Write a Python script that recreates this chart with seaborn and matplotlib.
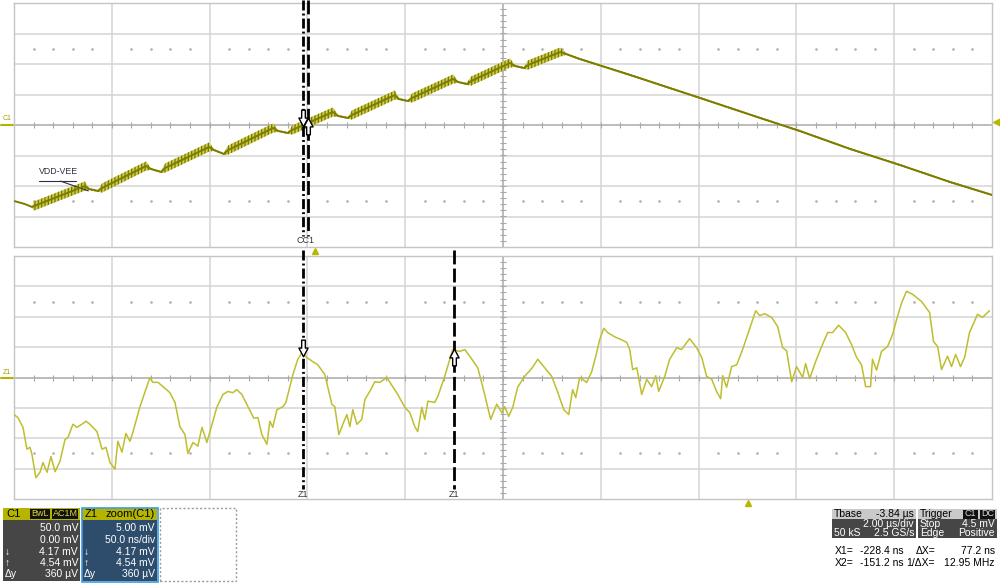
import numpy as np
import pandas as pd
import seaborn as sns
import matplotlib.pyplot as plt
from matplotlib.patches import Rectangle
from matplotlib.lines import Line2D
from matplotlib.path import Path

# ---- values ----
# C1 main trace: time (us), level (mV), ripple peak-to-peak (mV)
c1_time = [0.00, 0.22, 0.37, 0.41, 1.45, 1.53, 1.72, 1.80, 2.70, 2.80,
           3.01, 3.09, 3.99, 4.09, 4.29, 4.38, 5.30, 5.40, 5.60, 5.69,
           6.52, 6.63, 6.83, 6.91, 7.79, 7.87, 8.06, 8.14, 8.98, 9.08,
           9.26, 9.35, 10.14, 10.25, 10.43, 10.51, 11.17, 11.29, 11.57, 12.60,
           14.03, 15.26, 16.07, 17.10, 18.12, 19.14, 20.00]
c1_mv = [-124.6, -129.5, -134.4, -132.8, -100.0, -104.9, -108.2, -103.3, -67.2, -72.1,
         -77.0, -70.5, -36.1, -41.0, -47.5, -41.0, -4.9, -9.8, -13.1, -8.2,
         21.3, 14.8, 11.5, 16.4, 49.2, 42.6, 39.3, 44.3, 75.4, 70.5,
         67.2, 72.1, 101.6, 96.7, 93.4, 98.3, 119.6, 116.4, 108.2, 82.0,
         44.3, 11.5, -9.8, -39.3, -65.6, -93.4, -114.7]
c1_ripple = [0, 0, 2, 15, 15, 3, 3, 15, 15, 3,
             3, 15, 15, 3, 3, 15, 15, 3, 3, 15,
             15, 3, 3, 15, 15, 3, 3, 15, 15, 3,
             3, 15, 15, 3, 3, 15, 15, 3, 3, 3,
             3, 3, 3, 3, 3, 3, 3]

# Z1 zoom trace: time (ns from left edge), level (mV)
z1_time = [0.0, 2.0, 4.6, 6.6, 8.2, 9.2, 11.2, 13.3, 14.8, 16.9,
           18.9, 21.0, 23.5, 26.1, 27.6, 30.1, 32.2, 34.7, 36.8, 38.8,
           42.4, 45.0, 47.0, 49.1, 51.6, 53.1, 55.2, 57.2, 59.3, 60.8,
           64.4, 69.5, 71.0, 73.6, 76.2, 79.7, 82.3, 84.8, 87.4, 88.9,
           91.5, 94.0, 96.1, 98.6, 100.2, 103.7, 106.8, 109.3, 111.9, 113.9,
           116.5, 119.6, 122.6, 124.7, 126.7, 129.3, 130.8, 132.3, 134.4, 137.5,
           139.0, 142.6, 145.1, 147.2, 149.7, 152.8, 155.3, 158.9, 162.5, 164.0,
           166.1, 168.1, 170.2, 171.7, 173.2, 175.3, 177.8, 179.4, 181.9, 184.5,
           187.0, 190.6, 193.2, 196.2, 199.8, 202.4, 204.9, 206.4, 208.5, 210.0,
           211.6, 215.1, 216.7, 220.2, 222.8, 224.3, 227.9, 230.5, 233.0, 237.1,
           239.7, 242.2, 243.7, 246.8, 249.4, 250.9, 252.9, 255.0, 257.5, 261.1,
           264.7, 267.8, 270.3, 274.9, 277.5, 281.1, 283.6, 285.6, 287.2, 289.2,
           292.8, 295.4, 297.9, 299.4, 301.5, 303.5, 307.1, 310.7, 313.2, 314.8,
           316.3, 318.4, 320.9, 323.5, 326.0, 328.1, 329.6, 332.7, 335.2, 338.8,
           341.3, 345.4, 349.0, 351.6, 354.1, 356.7, 359.2, 361.3, 362.3, 364.3,
           366.9, 369.5, 372.5, 375.1, 379.2, 381.2, 383.8, 387.3, 390.4, 393.0,
           395.0, 397.6, 400.1, 403.2, 404.7, 406.8, 409.8, 412.9, 416.0, 418.5,
           421.6, 425.2, 428.2, 430.8, 433.3, 435.4, 437.9, 438.9, 441.0, 443.5,
           446.6, 449.2, 451.2, 453.8, 456.3, 459.4, 464.0, 468.1, 470.1, 472.2,
           474.2, 477.3, 479.3, 481.4, 483.9, 486.0, 488.5, 492.6, 495.2, 498.7]
z1_mv = [-6.1, -6.6, -8.2, -11.8, -11.5, -12.7, -16.5, -15.6, -14.0, -15.6,
         -13.0, -15.5, -13.8, -10.2, -9.9, -7.7, -8.2, -7.7, -7.2, -7.7,
         -8.9, -11.8, -11.5, -14.0, -15.1, -10.5, -12.3, -9.2, -10.5, -9.0,
         -4.8, 0.0, -0.8, -0.8, -1.5, -2.5, -4.1, -8.1, -9.4, -12.5,
         -10.7, -11.3, -8.2, -10.7, -8.9, -4.9, -2.8, -2.3, -2.5, -2.0,
         -2.8, -4.8, -6.7, -6.6, -9.4, -11.0, -7.2, -8.2, -5.3, -4.8,
         -4.1, 0.5, 3.0, 4.1, 3.3, 2.6, 2.1, 0.5, -4.4, -4.8,
         -9.4, -7.7, -6.1, -8.1, -5.3, -7.7, -6.9, -3.6, -2.3, -0.7,
         -0.8, 0.0, -1.3, -2.8, -4.9, -5.8, -8.1, -8.9, -4.9, -6.9,
         -3.9, -4.1, -3.1, 0.2, 3.0, 4.6, 4.3, 4.6, 3.5, 1.6,
         -1.6, -4.9, -6.9, -4.4, -5.8, -4.8, -6.4, -4.9, -1.6, 0.2,
         1.5, 3.0, 2.0, 0.2, -2.0, -5.3, -6.1, -2.0, -3.3, 0.0,
         -0.8, 1.0, 4.1, 6.2, 8.1, 7.4, 6.7, 6.2, 5.8, 4.6,
         1.3, 1.6, -2.8, -0.3, -1.5, 0.3, -2.3, 0.2, 3.0, 4.9,
         4.6, 6.4, 4.9, 3.3, 0.2, -0.3, -2.3, -3.5, 0.3, -1.6,
         1.8, 2.1, 4.6, 7.1, 11.0, 10.2, 10.5, 9.9, 8.4, 4.9,
         4.4, -0.7, 1.8, 0.0, 2.3, -0.2, 2.6, 5.1, 7.4, 7.4,
         8.6, 7.4, 5.4, 3.3, 2.1, -1.5, -1.5, 3.0, 1.2, 4.3,
         5.1, 7.1, 9.5, 12.3, 14.2, 13.7, 12.5, 10.7, 5.9, 5.1,
         1.3, 3.5, 1.8, 3.8, 1.8, 3.3, 7.4, 10.4, 9.9, 11.0]

cursor_main = [5.91, 6.01]      # us
cursor_zoom = [148.0, 225.2]    # ns
trigger_level = 4.5             # mV

c1_head = ['C1', 'BwL', 'AC1M']
c1_rows = ['50.0 mV', '0.00 mV', '4.17 mV', '4.54 mV', '360 µV']
z1_head = ['Z1', 'zoom(C1)']
z1_rows = ['5.00 mV', '50.0 ns/div', '4.17 mV', '4.54 mV', '360 µV']
row_keys = ['', '', '↓', '↑', 'Δy']
tbase_rows = [('Tbase', '-3.84 µs'), ('', '2.00 µs/div'), ('50 kS', '2.5 GS/s')]
trig_rows = [('Trigger', ''), ('Stop', '4.5 mV'), ('Edge', 'Positive')]
readouts = [('X1=', '-228.4 ns', 'ΔX=', '77.2 ns'),
            ('X2=', '-151.2 ns', '1/ΔX=', '12.95 MHz')]

# ---- style ----
sns.set_style('white')
plt.rcParams['font.family'] = ['Liberation Sans', 'DejaVu Sans']
plt.rcParams['hatch.linewidth'] = 0.9

W, H = 1000, 583
fig = plt.figure(figsize=(10, 5.83), dpi=100)
ax_top = fig.add_axes([14 / W, 1 - 247 / H, 978 / W, 244 / H])
ax_bot = fig.add_axes([14 / W, 1 - 499 / H, 978 / W, 243 / H])


def screen(ax, xdiv, ydiv):
    # scope graticule: 10 x 8 divisions
    ax.set_xlim(0, 10 * xdiv)
    ax.set_ylim(-4 * ydiv, 4 * ydiv)
    ax.set_xticks([])
    ax.set_yticks([])
    for k in range(1, 10):
        if k != 5:
            ax.axvline(k * xdiv, color='#d4d4d4', lw=1.1, zorder=0)
    for k in range(-3, 4):
        if k != 0:
            ax.axhline(k * ydiv, color='#d4d4d4', lw=1.1, zorder=0)
    ax.axhline(0, color='#a9a9a9', lw=1.1, zorder=0)
    ax.axvline(5 * xdiv, color='#a9a9a9', lw=1.1, zorder=0)
    xs = np.arange(0.2, 10, 0.2) * xdiv
    ys = np.arange(-3.8, 4, 0.2) * ydiv
    ax.plot(xs, np.zeros_like(xs), ls='none', marker='|', ms=4, mew=0.8,
            color='#a9a9a9', zorder=0)
    ax.plot(np.full_like(ys, 5 * xdiv), ys, ls='none', marker='_', ms=4, mew=0.8,
            color='#a9a9a9', zorder=0)
    dots = np.array([x for x in np.arange(0.2, 10, 0.2) if abs(x - round(x)) > 0.05]) * xdiv
    for yy in (2.5, -2.5):
        ax.plot(dots, np.full_like(dots, yy * ydiv), ls='none', marker='o', ms=1.0,
                color='#b8b8b8', zorder=0)
    for s in ax.spines.values():
        s.set_color('#c4c4c4')
        s.set_linewidth(1.0)


screen(ax_top, 2.0, 50.0)
screen(ax_bot, 50.0, 5.0)

# ---- main trace ----
c1 = pd.DataFrame({'t': c1_time, 'mv': c1_mv, 'rip': c1_ripple})
ax_top.fill_between(c1['t'], c1['mv'] - c1['rip'] / 2, c1['mv'] + c1['rip'] / 2,
                    facecolor='#cccc50', edgecolor='#787800', hatch='|||||',
                    linewidth=0, zorder=2)
sns.lineplot(data=c1, x='t', y='mv', ax=ax_top, color='#7c7c00', lw=1.4,
             estimator=None, sort=False, zorder=3)
ax_top.set_xlabel('')
ax_top.set_ylabel('')

# ---- zoom trace ----
z1 = pd.DataFrame({'t': z1_time, 'mv': z1_mv})
sns.lineplot(data=z1, x='t', y='mv', ax=ax_bot, color='#bebe30', lw=1.1,
             estimator=None, sort=False, zorder=3)
ax_bot.set_xlabel('')
ax_bot.set_ylabel('')

# ---- cursors ----
dashdot = (0, (3.6, 1.1, 0.7, 1.1))
dashed = (0, (5, 1.5))
ax_top.plot([cursor_main[0]] * 2, [205, -182], color='black', lw=2, ls=dashdot,
            clip_on=False, zorder=5)
ax_top.plot([cursor_main[1]] * 2, [205, -182], color='black', lw=2, ls=dashed,
            clip_on=False, zorder=5)
ax_bot.plot([cursor_zoom[0]] * 2, [21, -18.4], color='black', lw=2, ls=dashdot,
            clip_on=False, zorder=5)
ax_bot.plot([cursor_zoom[1]] * 2, [21, -18.4], color='black', lw=2, ls=dashed,
            clip_on=False, zorder=5)
# the two C1 cursor tags sit almost on top of each other
ax_top.text(sum(cursor_main) / 2, -190, 'CC1', ha='center', va='center', fontsize=6.5,
            color='#333344')
for x in cursor_zoom:
    ax_bot.text(x, -19.2, 'Z1', ha='center', va='center', fontsize=6.5, color='#333344')

# hollow cursor arrows
down_arrow = Path([(-0.22, 1.0), (0.22, 1.0), (0.22, 0.05), (0.55, 0.05), (0.0, -1.0),
                   (-0.55, 0.05), (-0.22, 0.05), (-0.22, 1.0)], closed=True)
up_arrow = Path([(x, -y) for x, y in down_arrow.vertices], closed=True)
arrow_style = dict(ls='none', ms=12, mfc='white', mec='black', mew=1.0, zorder=6,
                   clip_on=False)
ax_top.plot([cursor_main[0]], [12], marker=down_arrow, **arrow_style)
ax_top.plot([cursor_main[1]], [-2], marker=up_arrow, **arrow_style)
ax_bot.plot([cursor_zoom[0]], [4.9], marker=down_arrow, **arrow_style)
ax_bot.plot([cursor_zoom[1]], [3.4], marker=up_arrow, **arrow_style)

# label on the main trace
ax_top.text(0.52, -84, 'VDD-VEE', fontsize=6.3, color='#303040', va='bottom')
ax_top.plot([0.51, 1.27], [-92, -92], color='#303040', lw=0.8)
ax_top.plot([0.95, 1.52], [-92, -108], color='#303040', lw=0.8)

# markers: trigger level, trigger position
ax_top.plot([20.1], [trigger_level], marker='<', ms=6, color='#b8b800', clip_on=False)
ax_top.plot([6.16], [-207], marker='^', ms=5, color='#b8b800', clip_on=False)
ax_bot.plot([375], [-20.7], marker='^', ms=5, color='#b8b800', clip_on=False)


def fx(px):
    return px / W


def fy(py):
    return 1 - py / H


def rect(x0, y0, x1, y1, fc, **kw):
    fig.patches.append(Rectangle((fx(x0), fy(y1)), (x1 - x0) / W, (y1 - y0) / H,
                                 transform=fig.transFigure, facecolor=fc, **kw))


def txt(px, py, s, ha='left', color='white', size=7.5):
    fig.text(fx(px), fy(py), s, ha=ha, va='center', color=color, fontsize=size)


# channel labels at left edge
txt(3, 119, 'C1', color='#a0a000', size=5)
txt(3, 372, 'Z1', color='#a0a000', size=5)
fig.add_artist(Line2D([fx(1), fx(13)], [fy(125)] * 2, color='#b4b400', lw=1.5))
fig.add_artist(Line2D([fx(1), fx(13)], [fy(378)] * 2, color='#b4b400', lw=1.5))

# ---- C1 info box ----
row_y = [528, 540, 552, 563, 574]
rect(3, 508, 80, 520, '#b5b500', lw=0)
rect(3, 520, 80, 581, '#464646', lw=0)
txt(6, 514, c1_head[0], color='black', size=8)
rect(30, 509, 50, 519, '#111111', lw=0)
txt(40, 514, c1_head[1], ha='center', color='#d8d840', size=6.5)
rect(52, 509, 78, 519, '#111111', lw=0)
txt(65, 514, c1_head[2], ha='center', color='#d8d840', size=6.5)
for y, key, val in zip(row_y, row_keys, c1_rows):
    txt(5, y, key)
    txt(78, y, val, ha='right')

# ---- Z1 info box ----
rect(82, 520, 157, 581, '#2e4d6c', lw=0)
rect(82, 508, 157, 520, '#b5b500', lw=0)
rect(81.5, 507.5, 157.5, 581.5, 'none', edgecolor='#3d9be0', lw=1.2)
txt(85, 514, z1_head[0], color='black', size=8)
txt(155, 514, z1_head[1], ha='right', color='black', size=8)
for y, key, val in zip(row_y, row_keys, z1_rows):
    txt(84, y, key)
    txt(155, y, val, ha='right')

rect(160, 508, 236, 581, 'none', edgecolor='#9a9a9a', lw=1, ls=(0, (1.5, 1.5)))

# ---- timebase / trigger boxes ----
rect(832, 509, 916, 519, '#c9c9c9', lw=0)
rect(832, 519, 916, 538, '#464646', lw=0)
rect(918, 509, 997, 519, '#c9c9c9', lw=0)
rect(918, 519, 997, 538, '#464646', lw=0)
tb_y = [514, 524, 533]
for i, (y, (a, b)) in enumerate(zip(tb_y, tbase_rows)):
    c = 'black' if i == 0 else 'white'
    txt(834, y, a, color=c)
    txt(914, y, b, ha='right', color=c)
for i, (y, (a, b)) in enumerate(zip(tb_y, trig_rows)):
    c = 'black' if i == 0 else 'white'
    txt(920, y, a, color=c)
    txt(995, y, b, ha='right', color=c)
rect(963, 509.5, 978, 518.5, '#111111', lw=0)
txt(970.5, 514, 'C1', ha='center', color='#d8d8d8', size=6.5)
rect(980, 509.5, 995, 518.5, '#111111', lw=0)
txt(987.5, 514, 'DC', ha='center', color='#d8d8d8', size=6.5)

for y, (a, b, c, d) in zip([551, 563], readouts):
    txt(835, y, a, color='black')
    txt(904, y, b, ha='right', color='black')
    txt(935, y, c, ha='right', color='black')
    txt(995, y, d, ha='right', color='black')

fig.savefig('out.png', dpi=100)
